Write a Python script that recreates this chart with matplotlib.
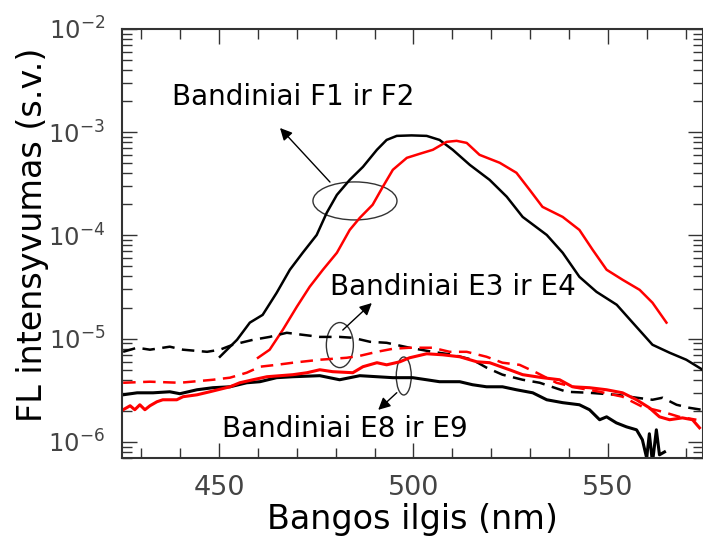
import numpy as np
import matplotlib
matplotlib.use('Agg')
import matplotlib.pyplot as plt
from matplotlib.patches import Ellipse

plt.rcParams['axes.unicode_minus'] = False

# F1 (black) and F2 (red) - main emission bands
f1_nm = [450.2, 454.6, 457.9, 461.2, 464.8, 468.2, 471.5, 475.1, 477.7, 480.3,
         483.6, 487.0, 490.6, 493.1, 495.7, 499.5, 503.4, 506.7, 510.1, 514.5,
         519.6, 524.0, 528.1, 534.3, 538.4, 542.7, 547.1, 552.3, 556.4, 561.5,
         565.9, 570.2, 574.4]
f1_val = [6.68e-6, 9.75e-6, 1.43e-5, 1.70e-5, 2.78e-5, 4.65e-5, 6.79e-5, 1.01e-4,
          1.66e-4, 2.47e-4, 3.45e-4, 4.61e-4, 6.75e-4, 8.41e-4, 9.20e-4, 9.3e-4,
          9.20e-4, 8.41e-4, 6.75e-4, 4.82e-4, 3.45e-4, 2.37e-4, 1.51e-4, 1.01e-4,
          6.79e-5, 3.97e-5, 2.84e-5, 2.13e-5, 1.43e-5, 8.73e-6, 7.31e-6, 6.25e-6,
          5.00e-6]

f2_nm = [460.0, 463.0, 466.4, 470.0, 473.3, 476.7, 480.3, 483.6, 486.2, 489.5,
         492.1, 494.7, 498.3, 501.6, 505.0, 508.5, 511.1, 513.7, 517.0, 522.2,
         526.5, 529.9, 533.2, 538.4, 542.7, 546.1, 549.7, 553.8, 558.2, 561.5,
         565.1]
f2_val = [6.53e-6, 7.82e-6, 1.22e-5, 2.04e-5, 3.18e-5, 4.65e-5, 6.79e-5, 1.13e-4,
          1.48e-4, 1.98e-4, 2.95e-4, 4.32e-4, 5.64e-4, 6.17e-4, 6.75e-4, 8.05e-4,
          8.24e-4, 7.87e-4, 6.03e-4, 5.05e-4, 4.04e-4, 2.76e-4, 1.89e-4, 1.51e-4,
          1.13e-4, 7.26e-5, 4.65e-5, 3.72e-5, 2.97e-5, 2.23e-5, 1.43e-5]

# E3 (black dashed) and E4 (red dashed)
e3_nm = [425.3, 428.9, 432.2, 437.3, 440.7, 446.9, 450.2, 453.5, 458.7, 463.0,
         467.4, 471.5, 475.9, 481.0, 484.4, 488.8, 493.1, 499.0, 504.9, 510.1,
         515.2, 518.8, 522.9, 528.1, 532.5, 539.4, 545.3, 552.2, 557.4, 561.5,
         564.1, 567.7, 571.0, 574.1]
e3_val = [7.46e-6, 8.17e-6, 7.82e-6, 8.36e-6, 7.82e-6, 7.46e-6, 7.82e-6, 8.73e-6,
          9.75e-6, 1.04e-5, 1.14e-5, 1.09e-5, 1.04e-5, 1.04e-5, 1.02e-5, 9.33e-6,
          9.12e-6, 8.17e-6, 7.46e-6, 6.98e-6, 6.25e-6, 5.24e-6, 4.48e-6, 4.0e-6,
          3.74e-6, 3.06e-6, 2.99e-6, 2.86e-6, 2.68e-6, 2.56e-6, 2.68e-6, 2.29e-6,
          2.14e-6, 2.05e-6]

e4_nm = [425.3, 432.2, 439.9, 448.4, 452.8, 457.1, 460.5, 464.8, 469.0, 475.9,
         482.8, 486.2, 490.6, 494.7, 499.0, 504.9, 509.3, 513.7, 518.8, 522.9,
         527.3, 531.7, 536.8, 542.0, 547.9, 553.8, 558.9, 564.1, 568.4, 572.8]
e4_val = [3.74e-6, 3.83e-6, 3.74e-6, 4.00e-6, 4.19e-6, 4.68e-6, 5.35e-6, 5.58e-6,
          5.85e-6, 6.25e-6, 6.53e-6, 6.82e-6, 7.46e-6, 7.98e-6, 8.17e-6, 8.17e-6,
          7.46e-6, 7.46e-6, 6.68e-6, 5.85e-6, 5.58e-6, 4.68e-6, 3.74e-6, 3.35e-6,
          3.06e-6, 2.74e-6, 2.19e-6, 1.96e-6, 1.75e-6, 1.64e-6]

# E8 (black solid) and E9 (red solid)
e8_nm = [425.3, 428.9, 433.0, 437.3, 439.9, 444.3, 448.4, 452.8, 457.1, 460.5,
         464.8, 469.0, 475.9, 481.0, 486.2, 490.6, 494.7, 499.8, 503.4, 506.7,
         511.9, 515.2, 518.8, 522.9, 526.5, 530.7, 534.3, 538.4, 542.7, 545.3,
         547.9, 549.7, 552.2, 554.8, 557.4, 558.9, 560.0, 560.7, 561.5, 562.5,
         563.3, 564.6]
e8_val = [2.86e-6, 2.99e-6, 2.99e-6, 3.06e-6, 2.93e-6, 3.20e-6, 3.35e-6, 3.42e-6,
          3.74e-6, 3.83e-6, 4.19e-6, 4.28e-6, 4.38e-6, 4.00e-6, 4.38e-6, 4.28e-6,
          4.19e-6, 4.19e-6, 4.00e-6, 3.83e-6, 3.83e-6, 3.58e-6, 3.42e-6, 3.42e-6,
          3.20e-6, 2.99e-6, 2.56e-6, 2.40e-6, 2.29e-6, 2.05e-6, 1.64e-6, 1.75e-6,
          1.53e-6, 1.40e-6, 1.31e-6, 1.05e-6, 7.0e-7, 1.20e-6, 6.3e-7, 1.31e-6,
          7.5e-7, 8.0e-7]

e9_nm = [425.3, 427.1, 428.3, 429.6, 430.9, 432.2, 434.0, 435.5, 439.1, 440.7,
         444.3, 447.6, 452.8, 455.3, 458.7, 462.3, 469.0, 472.6, 475.9, 479.2,
         484.4, 487.0, 490.6, 493.1, 496.5, 499.0, 503.4, 507.5, 511.9, 516.3,
         519.6, 524.7, 528.1, 533.2, 537.6, 540.9, 545.3, 549.7, 553.8, 557.4,
         560.7, 563.3, 565.9, 569.2, 571.8, 573.6]
e9_val = [2.05e-6, 2.24e-6, 2.05e-6, 2.29e-6, 2.05e-6, 2.24e-6, 2.45e-6, 2.56e-6,
          2.56e-6, 2.74e-6, 2.86e-6, 3.06e-6, 3.42e-6, 3.74e-6, 4.00e-6, 4.28e-6,
          4.48e-6, 4.68e-6, 5.00e-6, 4.79e-6, 4.68e-6, 5.35e-6, 5.85e-6, 5.58e-6,
          5.97e-6, 6.53e-6, 7.14e-6, 6.98e-6, 6.68e-6, 5.97e-6, 5.85e-6, 5.00e-6,
          4.48e-6, 4.19e-6, 4.00e-6, 3.42e-6, 3.35e-6, 3.20e-6, 2.99e-6, 2.56e-6,
          2.14e-6, 1.75e-6, 1.64e-6, 1.71e-6, 1.64e-6, 1.37e-6]

fig = plt.figure(figsize=(7.03, 5.4), dpi=100)
ax = fig.add_axes([0.1735, 0.152, 0.8265, 0.7945])

ax.plot(f1_nm, f1_val, color='black', lw=1.8)
ax.plot(f2_nm, f2_val, color='red', lw=1.8)
ax.plot(e3_nm, e3_val, color='black', lw=1.8, dashes=(5, 3))
ax.plot(e4_nm, e4_val, color='red', lw=1.8, dashes=(5, 3))
ax.plot(e8_nm, e8_val, color='black', lw=2.2)
ax.plot(e9_nm, e9_val, color='red', lw=2.2)

ax.set_yscale('log')
ax.set_xlim(425, 574.5)
ax.set_ylim(7e-7, 1e-2)
ax.set_xticks([450, 500, 550])
ax.xaxis.set_minor_locator(matplotlib.ticker.MultipleLocator(10))

ax.tick_params(which='both', direction='in', top=True, right=True,
               labelcolor='#444444', color='#333333', width=1)
ax.tick_params(axis='x', labelsize=19.5)
ax.tick_params(axis='y', labelsize=17.5)
ax.tick_params(which='major', length=11, pad=12)
ax.tick_params(which='minor', length=7)
for s in ax.spines.values():
    s.set_linewidth(1.5)
    s.set_color('#333333')

ax.set_xlabel('Bangos ilgis (nm)', fontsize=24, labelpad=2)
ax.set_ylabel('FL intensyvumas (s.v.)', fontsize=24)
ax.yaxis.set_label_coords(-0.125, 0.52)

# annotations
tf = dict(fontsize=20, ha='left', va='center', transform=ax.transAxes)
ax.text(0.086, 0.841, 'Bandiniai F1 ir F2', **tf)
ax.text(0.358, 0.399, 'Bandiniai E3 ir E4', **tf)
ax.text(0.172, 0.068, 'Bandiniai E8 ir E9', **tf)

for (cx, cy, w, h) in [(0.401, 0.599, 0.1446, 0.0886),
                       (0.375, 0.263, 0.0465, 0.105),
                       (0.485, 0.191, 0.0258, 0.0886)]:
    ax.add_patch(Ellipse((cx, cy), w, h, transform=ax.transAxes,
                         fill=False, edgecolor='#333333', lw=1))

ap = dict(arrowstyle='-|>', mutation_scale=18, lw=1, color='black',
          shrinkA=0, shrinkB=0)
ax.annotate('', xy=(0.272, 0.769), xytext=(0.358, 0.643),
            xycoords='axes fraction', arrowprops=ap)
ax.annotate('', xy=(0.430, 0.361), xytext=(0.380, 0.298),
            xycoords='axes fraction', arrowprops=ap)
ax.annotate('', xy=(0.441, 0.112), xytext=(0.473, 0.152),
            xycoords='axes fraction', arrowprops=ap)

fig.savefig('out.png', dpi=100)
